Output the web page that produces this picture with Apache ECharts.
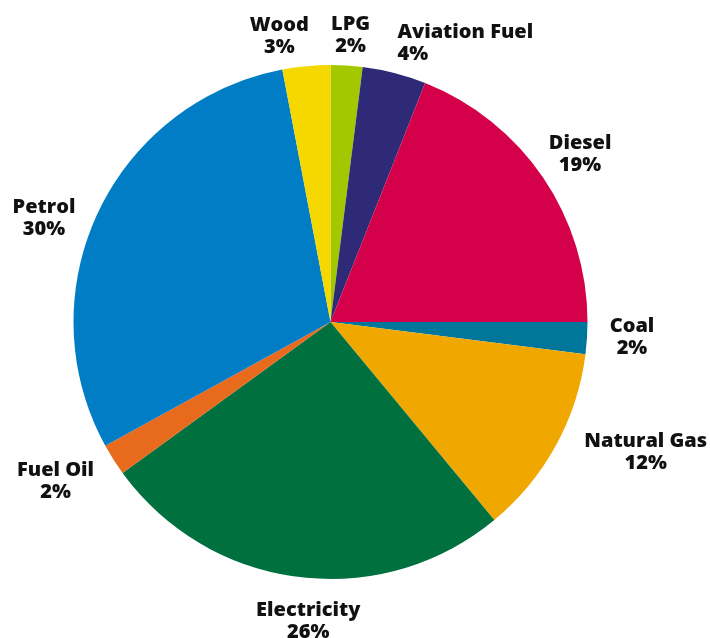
<!DOCTYPE html>
<html>
<head>
<meta charset="utf-8">
<script src="https://cdn.jsdelivr.net/npm/echarts@6/dist/echarts.min.js"></script>
<style>
html,body{margin:0;padding:0;background:#fff;}
#chart{width:710px;height:638px;}
</style>
</head>
<body>
<div id="chart"></div>
<script>
// ---- data ----
const categories = ['LPG', 'Aviation Fuel', 'Diesel', 'Coal', 'Natural Gas', 'Electricity', 'Fuel Oil', 'Petrol', 'Wood'];
const shares = [2, 4, 19, 2, 12, 26, 2, 30, 3];

// ---- styling ----
const palette = ['#a3c800', '#2e2a78', '#d5004a', '#00779a', '#f0a800', '#00703f', '#e86a1c', '#007dc5', '#f5d800'];
const CX = 330.5, CY = 322, R = 257;
// label offsets (px) from the slice's outer-edge midpoint
const labelOffsets = {
  'LPG': [4, -30], 'Aviation Fuel': [3, -30], 'Diesel': [37, -23], 'Coal': [45, -1],
  'Natural Gas': [90, 6], 'Electricity': [10, 44], 'Fuel Oil': [-58, 22],
  'Petrol': [-54, 6], 'Wood': [-27, -30]
};

const total = shares.reduce((a, b) => a + b, 0);
const cum = [];
shares.reduce((acc, v, i) => { cum[i] = acc + v / 2; return acc + v; }, 0);

const chart = echarts.init(document.getElementById('chart'), null, { renderer: 'canvas' });
chart.setOption({
  backgroundColor: '#ffffff',
  animation: false,
  series: [{
    type: 'pie',
    center: [CX, CY],
    radius: R,
    startAngle: 90,
    clockwise: true,
    avoidLabelOverlap: false,
    itemStyle: { borderWidth: 0 },
    emphasis: { disabled: true },
    label: {
      show: true,
      position: 'outside',
      formatter: p => p.name + '\n' + p.value + '%',
      fontFamily: 'Open Sans',
      fontWeight: 800,
      fontSize: 20,
      lineHeight: 22,
      color: '#111',
      align: 'center'
    },
    labelLine: { show: false },
    labelLayout: function (params) {
      const i = params.dataIndex;
      const name = categories[i];
      const th = cum[i] / total * Math.PI * 2;
      const s = Math.sin(th), c = Math.cos(th);
      const o = labelOffsets[name] || [0, 0];
      const x = CX + R * s + o[0];
      const y = CY - R * c + o[1];
      if (name === 'Aviation Fuel') {
        return { x: x, y: y, align: 'left', verticalAlign: 'middle' };
      }
      return { x: x, y: y, align: 'center', verticalAlign: 'middle' };
    },
    data: categories.map((n, i) => ({
      name: n,
      value: shares[i],
      itemStyle: { color: palette[i] },
      label: n === 'Aviation Fuel' ? { align: 'left' } : {}
    }))
  }]
});
</script>
</body>
</html>
